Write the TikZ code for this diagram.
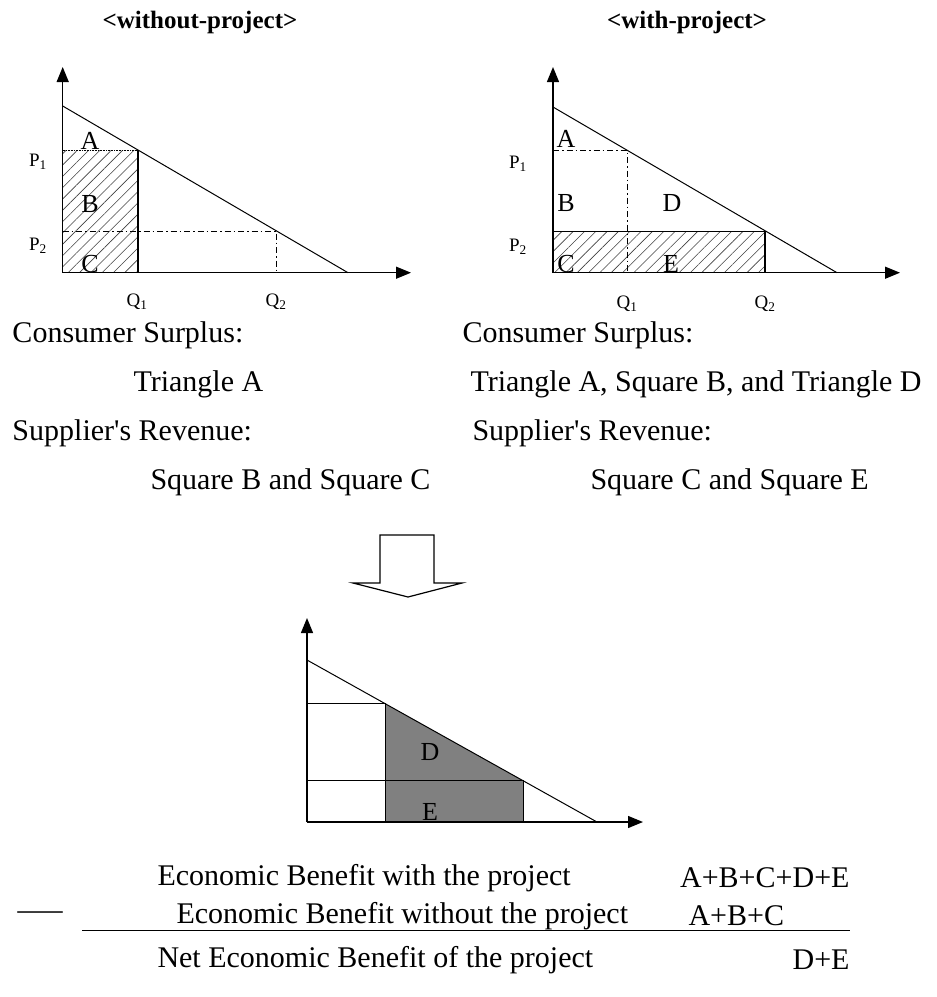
\documentclass[tikz,border=0pt]{standalone}
\usepackage{fontspec}
\setmainfont{Liberation Serif}
\newfontfamily\straightq{Liberation Serif}[Ligatures=TeXOff]
\usetikzlibrary{arrows.meta,patterns.meta}
\begin{document}
\begin{tikzpicture}[x=1pt,y=-1pt, line width=1pt,
  body/.style={font=\fontsize{30}{34}\selectfont, inner sep=0pt, anchor=west},
  bodye/.style={font=\fontsize{30}{34}\selectfont, inner sep=0pt, anchor=east},
  ttl/.style={font=\fontsize{25}{28}\selectfont\bfseries, inner sep=0pt},
  lbl/.style={font=\fontsize{26}{28}\selectfont, inner sep=0pt},
  axl/.style={font=\fontsize{19}{22}\selectfont, inner sep=0pt},
  axis/.style={line width=1.3pt, -{Triangle[length=15pt,width=12pt]}},
  dd/.style={dash pattern=on 6pt off 3pt on 1.5pt off 3pt, line width=0.9pt},
  hat/.style={pattern={Lines[angle=45,distance=8pt,line width=0.6pt]}, pattern color=black!75},
  stip/.style={fill=black!50},
]
\useasboundingbox (0,0) rectangle (937,997);

% ---------- titles
\node[ttl] (t1) at (200,22) {<without-project>};
\node[ttl] (t2) at (687,22) {<with-project>};

% ---------- left chart
\coordinate (LO) at (62.7,272.7);
\coordinate (LY) at (62.7,67);
\coordinate (LX) at (411,272.7);
\coordinate (LD0) at (62.7,106);
\coordinate (LD1) at (348,272.7);
\fill[hat] (62.7,150) rectangle (138,272.7);
\draw[line width=0.6pt, densely dotted] (62.7,150) -- (138,150);
\draw[line width=1.5pt] (138,150) -- (138,272.7);
\draw[dd] (62.7,231) -- (276,231) -- (276,272.7);
\draw (LD0) -- (LD1);
\draw[axis] (LO) -- (LY);
\draw[axis] (LO) -- (LX);
\node[axl] (lp1) at (38,162) {P\textsubscript{1}};
\node[axl] (lp2) at (38,246) {P\textsubscript{2}};
\node[axl] (lq1) at (137,302) {Q\textsubscript{1}};
\node[axl] (lq2) at (276,302) {Q\textsubscript{2}};
\node[lbl] (la) at (90,141) {A};
\node[lbl] (lb) at (90,204) {B};
\node[lbl] (lc) at (90,264) {C};

% ---------- right chart
\coordinate (RO) at (553,272.7);
\coordinate (RY) at (553,67);
\coordinate (RX) at (900,272.7);
\coordinate (RD0) at (553,107);
\coordinate (RD1) at (837,272.7);
\fill[hat] (553,231) rectangle (765,272.7);
\draw[line width=0.7pt] (553,231) -- (765,231);
\draw[line width=1.5pt] (765,231) -- (765,272.7);
\draw[dd] (553,150) -- (627,150) -- (627,272.7);
\draw (RD0) -- (RD1);
\draw[axis] (RO) -- (RY);
\draw[axis] (RO) -- (RX);
\node[axl] (rp1) at (518,164) {P\textsubscript{1}};
\node[axl] (rp2) at (518,247) {P\textsubscript{2}};
\node[axl] (rq1) at (627,304) {Q\textsubscript{1}};
\node[axl] (rq2) at (765,304) {Q\textsubscript{2}};
\node[lbl] (ra) at (566,139) {A};
\node[lbl] (rb) at (566,203) {B};
\node[lbl] (rd) at (672,203) {D};
\node[lbl] (rc) at (566,264) {C};
\node[lbl] (re) at (671,264) {E};

% ---------- texts
\node[body] (cs1) at (12,335) {Consumer Surplus:};
\node[body] (ta) at (133,384) {Triangle A};
\node[body] (sr1) at (12,433) {Supplier{\straightq'}s Revenue:};
\node[body] (sbc) at (150,482) {Square B and Square C};
\node[body] (cs2) at (462,335) {Consumer Surplus:};
\node[body] (tabd) at (470,384) {Triangle A, Square B, and Triangle D};
\node[body] (sr2) at (472,433) {Supplier{\straightq'}s Revenue:};
\node[body] (sce) at (590,482) {Square C and Square E};

% ---------- hollow arrow
\draw[line width=1.2pt] (380,535) -- (434,535) -- (434,583) -- (462,583) -- (408,597)
  -- (353,583) -- (380,583) -- cycle;

% ---------- bottom chart
\coordinate (BO) at (307,822);
\coordinate (BY) at (307,618);
\coordinate (BX) at (643,822);
\coordinate (BD0) at (307,660);
\coordinate (BD1) at (597,822);
\fill[stip] (385,703.6) -- (523,780.7) -- (523,822) -- (385,822) -- cycle;
\draw (307,703.6) -- (385,703.6) -- (385,822);
\draw (307,780.7) -- (523,780.7) -- (523,822);
\draw (BD0) -- (BD1);
\draw[axis] (BO) -- (BY);
\draw[axis] (BO) -- (BX);
\node[lbl] (bd) at (430,752) {D};
\node[lbl] (be) at (430,812) {E};

% ---------- bottom equation
\node[body] (r1) at (157,878) {Economic Benefit with the project};
\node[bodye] (v1) at (850,878) {A+B+C+D+E};
\node[body] (mn) at (17,916) {\scalebox{1.5}[1]{—}};
\node[body] (r2) at (176,916) {Economic Benefit without the project};
\node[body] (v2) at (688,916) {A+B+C};
\coordinate (ul0) at (82,930);
\coordinate (ul1) at (850,930);
\draw[line width=1pt] (ul0) -- (ul1);
\node[body] (r3) at (157,960) {Net Economic Benefit of the project};
\node[bodye] (v3) at (850,960) {D+E};
\end{tikzpicture}
\end{document}
